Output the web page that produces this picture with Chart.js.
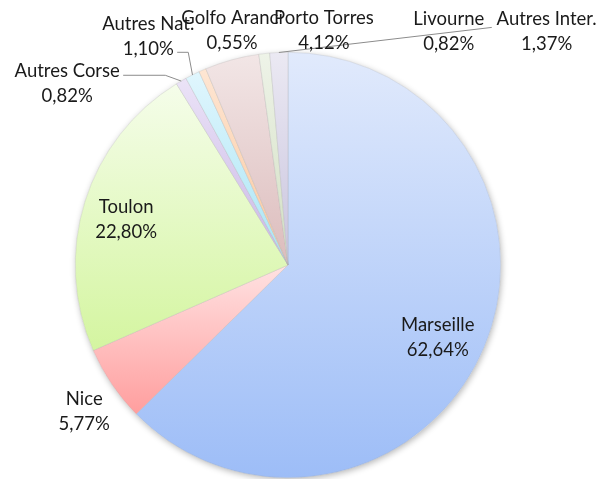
<!DOCTYPE html>
<html>
<head>
<meta charset="utf-8">
<script src="https://cdn.jsdelivr.net/npm/chart.js@4/dist/chart.umd.min.js"></script>
<style>
  html, body { margin: 0; padding: 0; background: #fff; }
  canvas { display: block; }
</style>
</head>
<body>
<canvas id="pieChart" width="614" height="479"></canvas>
<script>
// data
const categories = ['Marseille', 'Nice', 'Toulon', 'Autres Corse', 'Autres Nat.', 'Golfo Aranci', 'Porto Torres', 'Livourne', 'Autres Inter.']
const shares = [62.64, 5.77, 22.80, 0.82, 1.10, 0.55, 4.12, 0.82, 1.37]

// gradient colours (light top -> darker bottom) per slice
const topColors = ['#e1eafc', '#ffe2e2', '#f5fdea', '#ebe3f7', '#e0f6fd', '#fee6d3', '#f2e6e6', '#eef3e8', '#ebe9f3']
const bottomColors = ['#9dbdf7', '#ff9e9e', '#d4f5a0', '#c9b6e6', '#a8e4f5', '#fbc79d', '#dcbcbc', '#d2dfc2', '#c9c4de']

// label anchors and leader lines, in fractions of the radius from the pie centre
const labelAt = [
    [0.704, 0.343], [-0.958, 0.690], [-0.761, -0.216], [-1.038, -0.854], [-0.657, -1.075],
    [-0.263, -1.103], [0.169, -1.103], [0.756, -1.099], [1.216, -1.099]
]
const leaders = {
    3: [[-0.577, -0.892], [-0.775, -0.892]],
    4: [[-0.469, -1.0], [-0.521, -1.0]],
    8: [[0.958, -1.117]]
}

const fmt = (v) => v.toFixed(2).replace('.', ',') + '%'

const sliceGradient = {
    id: 'sliceGradient',
    beforeDatasetsDraw(chart) {
        const c = chart.ctx
        const meta = chart.getDatasetMeta(0)
        // shadow under the whole pie
        const a0 = meta.data[0]
        if (a0) {
            const p = a0.getProps(['x', 'y', 'outerRadius'], true)
            c.save()
            c.shadowColor = 'rgba(0,0,0,0.28)'
            c.shadowBlur = 6
            c.shadowOffsetX = 1
            c.shadowOffsetY = 2
            c.fillStyle = '#fff'
            c.beginPath()
            c.arc(p.x, p.y, p.outerRadius, 0, Math.PI * 2)
            c.fill()
            c.restore()
        }
        meta.data.forEach((arc, i) => {
            const p = arc.getProps(['x', 'y', 'startAngle', 'endAngle', 'outerRadius'], true)
            let ys = [p.y, p.y + p.outerRadius * Math.sin(p.startAngle), p.y + p.outerRadius * Math.sin(p.endAngle)]
            for (let k = -2; k <= 2; k++) {
                const t = Math.PI / 2 + k * Math.PI
                if (t > p.startAngle && t < p.endAngle) ys.push(p.y + p.outerRadius * Math.sin(t))
            }
            const g = c.createLinearGradient(0, Math.min(...ys), 0, Math.max(...ys))
            g.addColorStop(0, topColors[i])
            g.addColorStop(1, bottomColors[i])
            arc.options.backgroundColor = g
        })
    }
}

const sliceLabels = {
    id: 'sliceLabels',
    afterDatasetsDraw(chart) {
        const c = chart.ctx
        const meta = chart.getDatasetMeta(0)
        c.save()
        c.strokeStyle = '#8c8c8c'
        c.lineWidth = 1
        meta.data.forEach((arc, i) => {
            const p = arc.getProps(['x', 'y', 'startAngle', 'endAngle', 'outerRadius'], true)
            const r = p.outerRadius
            const mid = (p.startAngle + p.endAngle) / 2
            if (leaders[i]) {
                c.beginPath()
                c.moveTo(p.x + r * Math.cos(mid), p.y + r * Math.sin(mid))
                leaders[i].forEach(pt => c.lineTo(p.x + pt[0] * r, p.y + pt[1] * r))
                c.stroke()
            }
        })
        c.fillStyle = '#1a1a1a'
        c.font = '18.5px Lato'
        c.textAlign = 'center'
        c.textBaseline = 'middle'
        meta.data.forEach((arc, i) => {
            const p = arc.getProps(['x', 'y', 'outerRadius'], true)
            const lx = p.x + labelAt[i][0] * p.outerRadius
            const ly = p.y + labelAt[i][1] * p.outerRadius
            c.fillText(categories[i], lx, ly - 12.5)
            c.fillText(fmt(shares[i]), lx, ly + 12.5)
        })
        c.restore()
    }
}

new Chart(document.getElementById('pieChart'), {
    type: 'pie',
    data: {
        labels: categories,
        datasets: [{
            data: shares,
            backgroundColor: topColors,
            borderColor: 'rgba(170,170,170,0.45)',
            borderWidth: 0.6
        }]
    },
    options: {
        responsive: false,
        animation: false,
        layout: { padding: { left: 75, right: 113, top: 52, bottom: 1 } },
        plugins: {
            legend: { display: false },
            tooltip: { enabled: false }
        }
    },
    plugins: [sliceGradient, sliceLabels]
})
</script>
</body>
</html>
